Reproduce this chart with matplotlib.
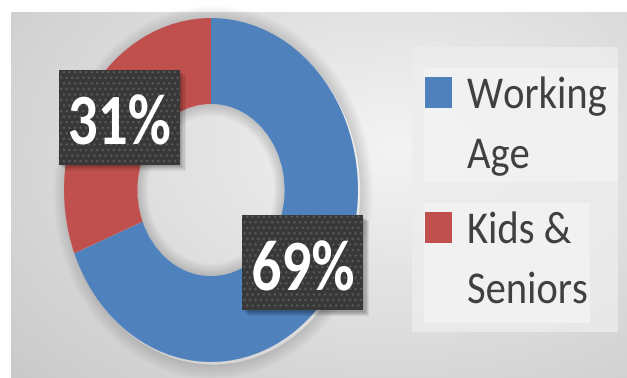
import numpy as np
import matplotlib
matplotlib.use("Agg")
import matplotlib.pyplot as plt
from matplotlib.patches import Rectangle, Wedge
from matplotlib.patheffects import AbstractPathEffect
from matplotlib.transforms import Affine2D, Bbox

# data
labels = ["Working Age", "Kids & Seniors"]
legend_lines = [["Working", "Age"], ["Kids &", "Seniors"]]
values = [69, 31]
colors = ["#4f81bd", "#c0504d"]

W, H = 627, 378
FONT = "Carlito"


class Squeeze(AbstractPathEffect):
    """squash glyphs horizontally, the source slide was shrunk in x"""

    def __init__(self, sx=0.86, anchor="center"):
        super().__init__()
        self.sx = sx
        self.anchor = anchor

    def draw_path(self, renderer, gc, tpath, affine, rgbFace=None):
        cx = 0.0
        if self.anchor == "center" and len(tpath.vertices):
            ext = tpath.get_extents()
            cx = (ext.x0 + ext.x1) / 2
        sq = Affine2D().translate(-cx, 0).scale(self.sx, 1).translate(cx, 0)
        renderer.draw_path(gc, tpath, sq + affine, rgbFace)


def squeezed_text(ax, x, y, s, sx, anchor, **kw):
    t = ax.text(x, y, s, path_effects=[Squeeze(sx, anchor)], **kw)
    orig = t.get_window_extent

    # keep the reported extent in line with what is drawn
    def extent(renderer=None, dpi=None):
        bb = orig(renderer, dpi)
        w = (bb.x1 - bb.x0) * sx
        x0 = bb.x0 if anchor == "left" else (bb.x0 + bb.x1) / 2 - w / 2
        return Bbox.from_extents(x0, bb.y0, x0 + w, bb.y1)

    t.get_window_extent = extent
    return t


fig = plt.figure(figsize=(W / 100, H / 100), dpi=100)
fig.patch.set_facecolor("white")

# background panel, pixel coords with origin top-left
bg = fig.add_axes([0, 0, 1, 1])
bg.set_xlim(0, W)
bg.set_ylim(H, 0)
bg.axis("off")
yy, xx = np.mgrid[0:H, 0:W]
d = np.sqrt(((xx - 390) / 450.0) ** 2 + ((yy - 140) / 300.0) ** 2)
shade = 0.955 - 0.14 * np.clip(d, 0, 1.4)
bg.imshow(np.dstack([shade] * 3), extent=(11, W, H, 12), aspect="auto",
          interpolation="bilinear", zorder=0)

# legend boxes
bg.add_patch(Rectangle((412, 47), 206, 285, color="#ededed", alpha=0.8, lw=0, zorder=1))
for i, (lines, col) in enumerate(zip(legend_lines, colors)):
    top = 77 + 135 * i
    bg.add_patch(Rectangle((424, top - 9), 194 - 28 * i, 114 + 6 * i,
                           color="#f3f3f3", alpha=0.85, lw=0, zorder=2))
    bg.add_patch(Rectangle((425, top), 27, 31, color=col, lw=0, zorder=3))
    for j, line in enumerate(lines):
        squeezed_text(bg, 467, top + 31 + 60 * j, line, 0.89, "left",
                      fontsize=32.8, family=FONT, color="#404040",
                      ha="left", va="baseline", zorder=4)

# donut, stretched to an ellipse like the reference
cx, cy, rx, ry = 211, 190, 147, 172
lim = 1.2
ax = fig.add_axes([(cx - lim * rx) / W, (H - cy - lim * ry) / H,
                   2 * lim * rx / W, 2 * lim * ry / H])
ax.axis("off")

# soft shadow just outside the ring and inside the hole
for k in range(7):
    ax.add_patch(Wedge((0.015, -0.015), 1.0 + 0.012 * (k + 1), 0, 360,
                       width=0.012 * (k + 1), color="black", alpha=0.02,
                       lw=0, zorder=0))
    ax.add_patch(Wedge((0.0, 0.0), 0.5, 0, 360, width=0.01 * (k + 1),
                       color="black", alpha=0.025, lw=0, zorder=0))

wedges, _ = ax.pie(values, colors=colors, startangle=90, counterclock=False,
                   radius=1.0, wedgeprops=dict(width=0.5, edgecolor="none"))
for w in wedges:
    w.set_zorder(2)
ax.set_aspect("auto")
ax.set_xlim(-lim, lim)
ax.set_ylim(-lim, lim)

bw, bh = 121 / rx, 95 / ry
for w, v in zip(wedges, values):
    mid = np.deg2rad((w.theta1 + w.theta2) / 2)
    px, py = 0.755 * np.cos(mid), 0.755 * np.sin(mid)
    for k in range(5):
        o = (k + 1) * 1.2
        ax.add_patch(Rectangle((px - bw / 2 + o / rx, py - bh / 2 - o / ry), bw, bh,
                               color="black", alpha=0.07, lw=0, zorder=3))
    ax.add_patch(Rectangle((px - bw / 2, py - bh / 2), bw, bh, facecolor="#383838",
                           edgecolor="#575757", hatch="...", lw=0, zorder=4))
    squeezed_text(ax, px, py - 27 / ry, f"{v}%", 0.82, "center",
                  fontsize=52, family=FONT, weight="bold", color="white",
                  ha="center", va="baseline", zorder=5)

fig.savefig("out.png", dpi=100, facecolor=fig.get_facecolor())
